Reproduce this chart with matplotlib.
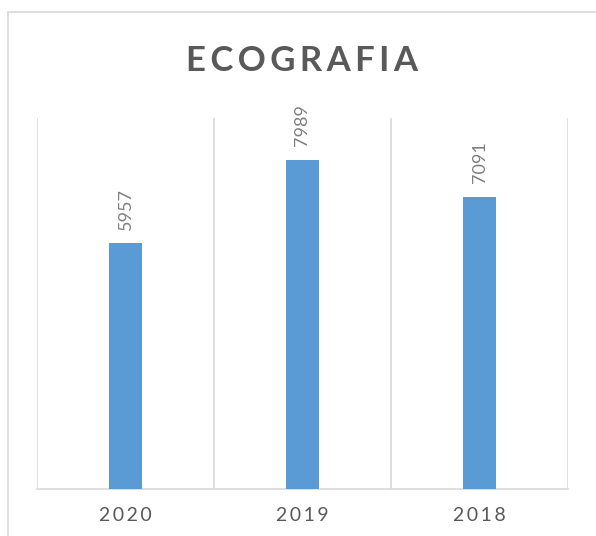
import matplotlib
matplotlib.use("Agg")
import matplotlib.pyplot as plt
from matplotlib.patches import Rectangle

categories = ["2020", "2019", "2018"]
values = [5957, 7989, 7091]
title = "ECOGRAFIA"

W, H = 596, 536
fig = plt.figure(figsize=(W / 100, H / 100), dpi=100)
fig.patch.set_facecolor("white")

# chart border
fig.patches.append(Rectangle((8 / W, -0.1), 1.2, (H - 12) / H + 0.1, transform=fig.transFigure,
                             fill=False, edgecolor="#D9D9D9", linewidth=1.2, zorder=0))

ax = fig.add_axes([37 / W, (H - 489) / H, (568 - 37) / W, (489 - 118) / H])
fam = ["Lato", "DejaVu Sans"]
x = list(range(len(categories)))
ax.bar(x, values, width=0.19, color="#5B9BD5", zorder=3)
ax.set_xlim(-0.5, len(categories) - 0.5)
ax.set_ylim(0, 9000)
for b in [i - 0.5 for i in range(len(categories) + 1)]:
    ax.axvline(b, color="#D9D9D9", linewidth=1.2, zorder=1)
for s in ["top", "right", "left"]:
    ax.spines[s].set_visible(False)
ax.spines["bottom"].set_color("#D9D9D9")
ax.spines["bottom"].set_linewidth(1.2)
ax.set_yticks([])
ax.set_xticks(x)
ax.set_xticklabels(["\u2009".join(c) for c in categories], family=fam, fontsize=14, color="#595959")
ax.tick_params(axis="x", length=0, pad=13)

for xi, v in zip(x, values):
    ax.annotate(str(v), (xi, v), xytext=(0, 10), textcoords="offset points", rotation=90,
                ha="center", va="bottom", family=fam, fontsize=13, color="#7F7F7F")

fig.text(301.5 / W, 1 - 61 / H, "\u2009".join(title), ha="center", va="center", family=fam,
         fontsize=25, fontweight="bold", color="#595959")

fig.savefig("out.png", dpi=100)
